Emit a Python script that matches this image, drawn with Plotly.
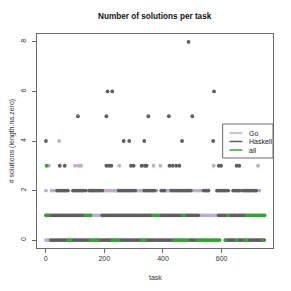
import plotly.graph_objects as go

# ---------------- data (task index per level) ----------------
go_l0 = [1, 4, 8, 11, 216, 718]
go_l1 = [159, 165, 171, 176, 181, 187, 528, 534, 540, 546, 552, 558, 564, 570, 576, 582, 585]
go_l2 = [1, 20, 29, 199, 205, 211, 217, 223, 229, 235, 241, 243, 310, 316, 322, 328, 333, 378,
         411, 416, 421, 505, 511, 517, 523, 528, 729]
go_l3 = [11, 100, 112, 121, 251, 368, 391, 573, 724]
go_l4 = [46]

hs_l0 = [18, 24, 30, 36, 42, 48, 54, 60, 66, 72, 90, 96, 102, 108, 114, 120, 126, 132, 138, 144, 150,
         182, 188, 194, 200, 206, 212, 218, 224, 256, 262, 268, 274, 280, 286, 292, 298, 304, 310, 316, 322,
         342, 348, 354, 360, 366, 372, 378, 384, 390, 396, 402, 408, 414, 420, 426, 432, 490, 496, 502, 508, 514,
         615, 621, 627, 633, 639, 645, 657, 663, 669, 675, 690, 696, 702, 708, 714, 720, 726, 732, 738, 745]
hs_l1 = [9, 15, 21, 27, 33, 39, 45, 51, 57, 63, 69, 75, 81, 87, 93, 99, 105, 111, 117, 123, 129,
         193, 199, 205, 211, 217, 223, 229, 235, 241, 247, 253, 259, 265, 271, 277, 283, 289, 295, 301, 307,
         313, 319, 325, 331, 337, 343, 349, 355, 361, 390, 396, 402, 408, 414, 420, 426, 432, 438, 444, 450,
         456, 462, 478, 484, 490, 496, 502, 508, 514, 520, 590, 596, 602, 608, 614, 628, 634, 640, 646, 652,
         658, 664, 670, 676, 680]
hs_l2 = [39, 45, 51, 57, 63, 69, 76, 93, 99, 105, 111, 117, 123, 129, 137, 149, 155, 161, 167, 173, 179,
         185, 193, 249, 255, 261, 267, 273, 279, 285, 291, 297, 305, 336, 342, 348, 354, 360, 366, 372,
         394, 400, 405, 428, 434, 440, 446, 452, 458, 464, 470, 476, 482, 488, 495, 538, 544, 550, 555,
         584, 590, 596, 602, 608, 614, 622, 639, 645, 651, 657, 662, 672, 678, 684, 690, 696, 702, 708, 714, 718]
hs_l3 = [48, 65, 207, 216, 224, 291, 300, 327, 338, 344, 422, 433, 445, 456, 590, 598, 651, 660]
hs_l4 = [1, 266, 285, 336, 465, 571]
hs_l5 = [110, 207, 350, 420, 500]
hs_l6 = [211, 227, 574]
hs_l8 = [487]

all_l0 = [76, 81, 86, 153, 158, 163, 168, 173, 177, 227, 232, 237, 242, 247, 250, 327, 332, 337,
          438, 443, 448, 453, 458, 463, 468, 473, 478, 483, 518, 523, 528, 533, 538, 543, 548, 553, 558,
          563, 568, 573, 578, 583, 588, 593, 612, 651, 679, 685, 740]
all_l1 = [1, 4, 8, 137, 142, 147, 153, 367, 372, 378, 384, 468, 472, 622, 685, 690, 695, 700, 705, 710,
          715, 720, 725, 730, 735, 740, 746]
all_l3 = [3]

series_names = ["Go", "Haskell", "all"]
series_colors = ["#BEAED4", "#5F5F5F", "#33A532"]


def flatten(levels):
    xs, ys = [], []
    for lvl, arr in levels:
        xs += arr
        ys += [lvl] * len(arr)
    return xs, ys


go_x, go_y = flatten([(0, go_l0), (1, go_l1), (2, go_l2), (3, go_l3), (4, go_l4)])
hs_x, hs_y = flatten([(0, hs_l0), (1, hs_l1), (2, hs_l2), (3, hs_l3), (4, hs_l4),
                      (5, hs_l5), (6, hs_l6), (8, hs_l8)])
all_x, all_y = flatten([(0, all_l0), (1, all_l1), (3, all_l3)])

# page body has an 8px margin, so the figure is shifted by 8px
OFF = 8
W, H = 283, 283
ML, MR, MT, MB = 26, 18, 26, 43
PW, PH = W - ML - MR, H - MT - MB

fig = go.Figure()
for name, xs, ys, col in zip(series_names, [go_x, hs_x, all_x], [go_y, hs_y, all_y], series_colors):
    fig.add_trace(go.Scatter(x=xs, y=ys, mode="markers", name=name, showlegend=False,
                             marker=dict(size=3.8, color=col, line=dict(width=0))))

font = "Liberation Sans, Arial, sans-serif"
axis_common = dict(showline=True, linecolor="#6a6a6a", linewidth=1, mirror=True, ticks="outside",
                   ticklen=4, tickcolor="#6a6a6a", tickwidth=1, showgrid=False, zeroline=False,
                   tickfont=dict(size=7, family=font, color="#333"))
fig.update_layout(
    width=W, height=H, margin=dict(l=ML, r=MR, t=MT, b=MB, pad=0),
    plot_bgcolor="white", paper_bgcolor="white", showlegend=False,
    xaxis=dict(range=[-29.5, 775], tickvals=[0, 200, 400, 600], **axis_common),
    yaxis=dict(range=[-0.32, 8.32], tickvals=[0, 2, 4, 6, 8], tickangle=-90, ticklabelstandoff=3,
               **axis_common),
)


def px_x(px):
    return (px - OFF - ML) / PW


def px_y(py):
    return (H - MB - (py - OFF)) / PH


ann = []
ann.append(dict(text="<b>Number of solutions per task</b>", x=0.5, y=px_y(17), xref="paper", yref="paper",
                showarrow=False, xanchor="center", yanchor="middle", font=dict(size=8.2, family=font, color="#111")))
ann.append(dict(text="task", x=0.5, y=px_y(277), xref="paper", yref="paper", showarrow=False,
                xanchor="center", yanchor="middle", font=dict(size=7, family=font, color="#333")))
ann.append(dict(text="# solutions (length.na.zero)", x=px_x(9), y=0.5, xref="paper", yref="paper",
                showarrow=False, textangle=-90, xanchor="center", yanchor="middle",
                font=dict(size=7, family=font, color="#333")))

shapes = [dict(type="rect", xref="paper", yref="paper", x0=px_x(222), x1=1, y0=px_y(158), y1=px_y(124),
               line=dict(color="#6a6a6a", width=1), fillcolor="white", layer="above")]
for i, (name, col) in enumerate(zip(series_names, series_colors)):
    yy = px_y(133 + 8.5 * i)
    shapes.append(dict(type="line", xref="paper", yref="paper", x0=px_x(229), x1=px_x(242), y0=yy, y1=yy,
                       line=dict(color=col, width=1.5), layer="above"))
    ann.append(dict(text=name, x=px_x(247), y=yy, xref="paper", yref="paper", showarrow=False,
                    xanchor="left", yanchor="middle", font=dict(size=7, family=font, color="#222")))

fig.update_layout(annotations=ann, shapes=shapes)
fig.write_html("out.html")
